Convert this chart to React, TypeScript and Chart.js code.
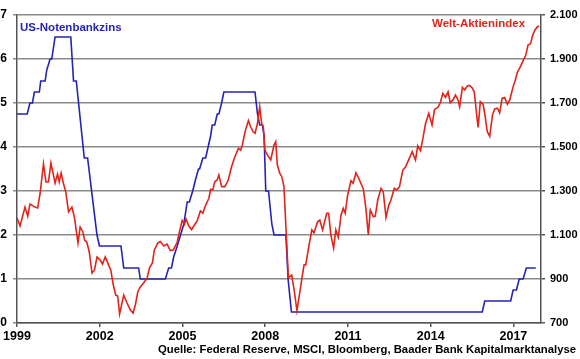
import React, { useEffect, useRef } from "react";
import { Chart, registerables } from "chart.js";

Chart.register(...registerables);

// US Fed funds target rate (%), step points
const fedYears = [
  1999.0, 1999.37, 1999.47, 1999.56, 1999.63, 1999.81, 1999.86, 2000.02, 2000.08, 2000.2, 2000.26, 2000.38,
  2000.95, 2001.05, 2001.15, 2001.44, 2001.56, 2001.9, 2001.99, 2002.77, 2002.87, 2003.41, 2003.47, 2004.38,
  2004.5, 2004.6, 2004.68, 2004.81, 2004.93, 2005.05, 2005.17, 2005.25, 2005.37, 2005.47, 2005.58, 2005.62,
  2005.74, 2005.84, 2005.93, 2006.02, 2006.08, 2006.17, 2006.26, 2006.32, 2006.42, 2006.5, 2007.63, 2007.72,
  2007.8, 2007.9, 2007.96, 2008.02, 2008.12, 2008.24, 2008.32, 2008.75, 2008.83, 2008.95, 2015.87, 2015.96,
  2016.9, 2016.99, 2017.11, 2017.21, 2017.35, 2017.47, 2017.81,
];
const fedRates = [
  4.75, 4.75, 5.0, 5.0, 5.25, 5.25, 5.5, 5.5, 5.75, 6.0, 6.0, 6.5,
  6.5, 5.5, 5.5, 3.75, 3.75, 2.0, 1.75, 1.75, 1.25, 1.25, 1.0, 1.0,
  1.25, 1.25, 1.5, 1.75, 2.0, 2.25, 2.75, 2.75, 3.0, 3.25, 3.5, 3.5,
  3.75, 3.75, 4.0, 4.25, 4.5, 4.5, 4.75, 4.75, 5.0, 5.25, 5.25, 4.75,
  4.5, 4.5, 4.25, 3.0, 3.0, 2.25, 2.0, 2.0, 1.0, 0.25, 0.25, 0.5,
  0.5, 0.75, 0.75, 1.0, 1.0, 1.25, 1.25,
];

// World equity index (MSCI World), right axis
const msciYears = [
  1999.0, 1999.11, 1999.29, 1999.39, 1999.47, 1999.65, 1999.75, 1999.84, 1999.96, 2000.05, 2000.14, 2000.23,
  2000.32, 2000.38, 2000.47, 2000.53, 2000.6, 2000.68, 2000.77, 2000.87, 2000.99, 2001.08, 2001.21, 2001.29,
  2001.39, 2001.45, 2001.53, 2001.62, 2001.72, 2001.81, 2001.9, 2002.02, 2002.1, 2002.2, 2002.32, 2002.4,
  2002.49, 2002.58, 2002.65, 2002.72, 2002.87, 2002.99, 2003.11, 2003.21, 2003.29, 2003.38, 2003.47, 2003.59,
  2003.72, 2003.8, 2003.91, 2003.98, 2004.11, 2004.2, 2004.32, 2004.44, 2004.56, 2004.67, 2004.81, 2004.89,
  2004.99, 2005.07, 2005.13, 2005.23, 2005.33, 2005.41, 2005.53, 2005.65, 2005.74, 2005.84, 2005.96, 2006.02,
  2006.1, 2006.17, 2006.26, 2006.32, 2006.42, 2006.54, 2006.66, 2006.78, 2006.9, 2007.03, 2007.11, 2007.17,
  2007.27, 2007.39, 2007.47, 2007.56, 2007.63, 2007.72, 2007.8, 2007.87, 2007.93, 2007.99, 2008.08, 2008.2,
  2008.32, 2008.38, 2008.44, 2008.53, 2008.6, 2008.68, 2008.75, 2008.84, 2008.96, 2009.05, 2009.15, 2009.23,
  2009.33, 2009.41, 2009.47, 2009.57, 2009.69, 2009.77, 2009.9, 2009.98, 2010.08, 2010.23, 2010.3, 2010.38,
  2010.48, 2010.56, 2010.65, 2010.75, 2010.83, 2010.9, 2010.99, 2011.11, 2011.19, 2011.29, 2011.39, 2011.56,
  2011.65, 2011.74, 2011.81, 2011.92, 2011.99, 2012.08, 2012.2, 2012.28, 2012.38, 2012.48, 2012.56, 2012.68,
  2012.77, 2012.87, 2012.99, 2013.08, 2013.21, 2013.33, 2013.45, 2013.53, 2013.63, 2013.72, 2013.81, 2013.93,
  2014.05, 2014.14, 2014.26, 2014.35, 2014.44, 2014.54, 2014.63, 2014.71, 2014.81, 2014.9, 2014.99, 2015.05,
  2015.15, 2015.23, 2015.33, 2015.41, 2015.51, 2015.58, 2015.65, 2015.72, 2015.8, 2015.9, 2015.98, 2016.05,
  2016.14, 2016.24, 2016.32, 2016.42, 2016.5, 2016.59, 2016.68, 2016.78, 2016.87, 2016.98, 2017.05, 2017.15,
  2017.25, 2017.36, 2017.45, 2017.53, 2017.62, 2017.69, 2017.78, 2017.87, 2017.93,
];
const msciValues = [
  1177, 1141, 1227, 1186, 1241, 1227, 1223, 1291, 1423, 1341, 1341, 1427,
  1373, 1336, 1377, 1341, 1382, 1336, 1295, 1205, 1227, 1182, 1064, 1136,
  1114, 1077, 1068, 1023, 927, 941, 1000, 986, 968, 1000, 964, 941,
  873, 827, 823, 741, 827, 791, 759, 745, 782, 841, 864, 882,
  905, 950, 973, 1032, 1064, 1070, 1050, 1059, 1029, 1032, 1068, 1114,
  1166, 1148, 1173, 1141, 1125, 1141, 1164, 1209, 1199, 1236, 1267, 1308,
  1305, 1342, 1350, 1373, 1320, 1320, 1350, 1410, 1456, 1494, 1486, 1509,
  1570, 1620, 1592, 1570, 1562, 1608, 1683, 1608, 1592, 1486, 1464, 1441,
  1509, 1524, 1418, 1380, 1365, 1320, 1136, 905, 918, 850, 756, 820,
  903, 964, 964, 1040, 1123, 1110, 1160, 1168, 1123, 1199, 1199, 1100,
  1040, 1123, 1090, 1191, 1221, 1199, 1282, 1347, 1335, 1383, 1358, 1308,
  1221, 1100, 1214, 1183, 1186, 1259, 1312, 1297, 1180, 1236, 1259, 1312,
  1305, 1320, 1395, 1408, 1444, 1479, 1441, 1505, 1483, 1540, 1605, 1653,
  1600, 1671, 1680, 1701, 1744, 1726, 1751, 1701, 1714, 1736, 1714, 1683,
  1771, 1759, 1777, 1780, 1768, 1750, 1668, 1589, 1706, 1695, 1636, 1570,
  1548, 1645, 1673, 1676, 1655, 1721, 1725, 1695, 1715, 1770, 1797, 1842,
  1864, 1895, 1918, 1964, 1970, 2005, 2032, 2047, 2050,
];

const xTickYears = [1999, 2002, 2005, 2008, 2011, 2014, 2017];
const leftTicks = [0, 1, 2, 3, 4, 5, 6, 7];
const rightTicks = [700, 900, 1100, 1300, 1500, 1700, 1900, 2100];

const fedLabel = "US-Notenbankzins";
const msciLabel = "Welt-Aktienindex";
const sourceText = "Quelle: Federal Reserve, MSCI, Bloomberg, Baader Bank Kapitalmarktanalyse";

const BLUE = "#2424B8";
const RED = "#E2231A";
const FONT = "Arial, 'Liberation Sans', sans-serif";

function fmtThousands(v: number): string {
  const s = String(Math.round(v));
  return s.replace(/\B(?=(\d{3})+(?!\d))/g, ".");
}

export default function App() {
  const ref = useRef<HTMLCanvasElement | null>(null);

  useEffect(() => {
    if (!ref.current) return;
    const textPlugin = {
      id: "texts",
      afterDraw(chart: any) {
        const ctx = chart.ctx;
        ctx.save();
        ctx.textBaseline = "middle";
        ctx.textAlign = "left";
        ctx.font = `bold 11.5px ${FONT}`;
        ctx.fillStyle = BLUE;
        ctx.fillText(fedLabel, 20, 28);
        ctx.fillStyle = RED;
        ctx.fillText(msciLabel, 432, 24);
        ctx.fillStyle = "#000";
        ctx.font = `bold 11.6px ${FONT}`;
        ctx.fillText(sourceText, 158, 350, 418);
        ctx.restore();
      },
    };

    const chart = new Chart(ref.current, {
      type: "line",
      data: {
        datasets: [
          {
            label: msciLabel,
            data: msciYears.map((x, i) => ({ x, y: msciValues[i] })),
            yAxisID: "y1",
            borderColor: RED,
            borderWidth: 1.6,
            pointRadius: 0,
            tension: 0,
            fill: false,
          },
          {
            label: fedLabel,
            data: fedYears.map((x, i) => ({ x, y: fedRates[i] })),
            yAxisID: "y",
            borderColor: BLUE,
            borderWidth: 1.6,
            pointRadius: 0,
            tension: 0,
            fill: false,
          },
        ],
      },
      options: {
        responsive: false,
        animation: false,
        devicePixelRatio: 1,
        layout: { padding: { top: 15, left: 0, right: 0, bottom: 0 } },
        plugins: { legend: { display: false }, tooltip: { enabled: false } },
        scales: {
          x: {
            type: "linear",
            min: 1999,
            max: 2018,
            afterBuildTicks: (scale: any) => {
              scale.ticks = xTickYears.map((v) => ({ value: v }));
            },
            afterFit: (scale: any) => {
              scale.height = 36;
            },
            ticks: {
              autoSkip: false,
              maxRotation: 0,
              padding: 2,
              color: "#000",
              font: { family: FONT, size: 12.5, weight: "bold" },
              callback: (v: any) => String(v),
            },
            grid: { drawOnChartArea: false, drawTicks: true, tickLength: 4, color: "#555", lineWidth: 1.5 },
            border: { display: true, color: "#555", width: 1.5 },
          },
          y: {
            position: "left",
            min: 0,
            max: 7,
            afterBuildTicks: (scale: any) => {
              scale.ticks = leftTicks.map((v) => ({ value: v }));
            },
            afterFit: (scale: any) => {
              scale.width = 17;
            },
            ticks: {
              padding: 6,
              color: "#000",
              font: { family: FONT, size: 12, weight: "bold" },
              callback: (v: any) => String(v),
            },
            grid: { drawOnChartArea: true, drawTicks: true, tickLength: 4, color: "#8a8a8a", lineWidth: 1.5 },
            border: { display: true, color: "#555", width: 1.5 },
          },
          y1: {
            position: "right",
            min: 700,
            max: 2100,
            afterBuildTicks: (scale: any) => {
              scale.ticks = rightTicks.map((v) => ({ value: v }));
            },
            afterFit: (scale: any) => {
              scale.width = 39;
            },
            ticks: {
              padding: 5,
              color: "#000",
              font: { family: FONT, size: 11, weight: "bold" },
              callback: (v: any) => fmtThousands(Number(v)),
            },
            grid: { drawOnChartArea: false, drawTicks: true, tickLength: 4, color: "#555", lineWidth: 1.5 },
            border: { display: true, color: "#555", width: 1.5 },
          },
        },
      },
      plugins: [textPlugin],
    } as any);
    return () => chart.destroy();
  }, []);

  return (
    <div style={{ position: "fixed", left: 0, top: 0, width: 580, height: 359, background: "#fff" }}>
      <canvas ref={ref} width={580} height={359} style={{ width: 580, height: 359, display: "block" }} />
    </div>
  );
}
